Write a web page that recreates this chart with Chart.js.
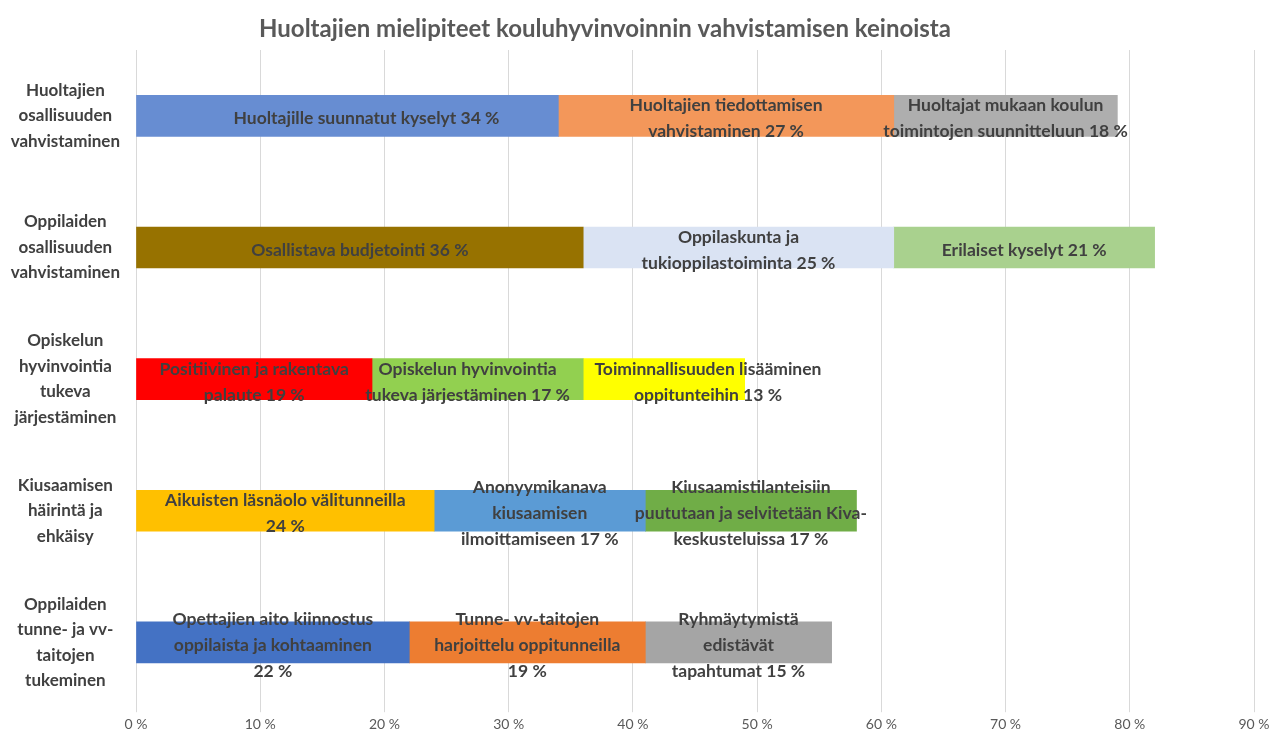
<!DOCTYPE html>
<html>
<head>
<meta charset="utf-8">
<script src="https://cdn.jsdelivr.net/npm/chart.js@4"></script>
<style>
  html, body { margin: 0; padding: 0; background: #fff; }
  #wrap { width: 1287px; height: 739px; }
</style>
</head>
<body>
<div id="wrap"><canvas id="c"></canvas></div>
<script>
// ═══ DATA ═══
const chartTitle = "Huoltajien mielipiteet kouluhyvinvoinnin vahvistamisen keinoista";

const categories = [
  ["Huoltajien", "osallisuuden", "vahvistaminen"],
  ["Oppilaiden", "osallisuuden", "vahvistaminen"],
  ["Opiskelun", "hyvinvointia", "tukeva", "järjestäminen"],
  ["Kiusaamisen", "häirintä ja", "ehkäisy"],
  ["Oppilaiden", "tunne- ja vv-", "taitojen", "tukeminen"]
];

const firstValues  = [34, 36, 19, 24, 22];
const secondValues = [27, 25, 17, 17, 19];
const thirdValues  = [18, 21, 13, 17, 15];

const firstColors  = ["#678DD2", "#977200", "#FF0000", "#FFC000", "#4472C4"];
const secondColors = ["#F3975A", "#DAE3F3", "#92D050", "#5B9BD5", "#ED7D31"];
const thirdColors  = ["#AEAEAE", "#A9D18E", "#FFFF00", "#70AD47", "#A5A5A5"];

const firstLabels = [
  ["Huoltajille suunnatut kyselyt 34 %"],
  ["Osallistava budjetointi 36 %"],
  ["Positiivinen ja rakentava", "palaute 19 %"],
  ["Aikuisten läsnäolo välitunneilla", "24 %"],
  ["Opettajien aito kiinnostus", "oppilaista ja kohtaaminen", "22 %"]
];
const secondLabels = [
  ["Huoltajien tiedottamisen", "vahvistaminen 27 %"],
  ["Oppilaskunta ja", "tukioppilastoiminta 25 %"],
  ["Opiskelun hyvinvointia", "tukeva järjestäminen 17 %"],
  ["Anonyymikanava", "kiusaamisen", "ilmoittamiseen 17 %"],
  ["Tunne- vv-taitojen", "harjoittelu oppitunneilla", "19 %"]
];
const thirdLabels = [
  ["Huoltajat mukaan koulun", "toimintojen suunnitteluun 18 %"],
  ["Erilaiset kyselyt 21 %"],
  ["Toiminnallisuuden lisääminen", "oppitunteihin 13 %"],
  ["Kiusaamistilanteisiin", "puututaan ja selvitetään Kiva-", "keskusteluissa 17 %"],
  ["Ryhmäytymistä", "edistävät", "tapahtumat 15 %"]
];

const xTicks = [0, 10, 20, 30, 40, 50, 60, 70, 80, 90];

const FONT = "Lato, 'Open Sans', sans-serif";
const TEXT = "#404040";

// ═══ SEGMENT LABELS + TITLE ═══
// a few labels were dragged sideways in the original (dataset-category → px)
const labelNudge = { "0-0": 19, "1-2": -10, "2-2": 44 };

const segmentLabelPlugin = {
  id: "segmentLabels",
  afterDatasetsDraw(chart) {
    const ctx = chart.ctx;
    const sets = [firstLabels, secondLabels, thirdLabels];
    ctx.save();
    ctx.font = "bold 17.5px " + FONT;
    ctx.fillStyle = TEXT;
    ctx.textAlign = "center";
    ctx.textBaseline = "middle";
    const lh = 26;
    sets.forEach((lbls, di) => {
      const meta = chart.getDatasetMeta(di);
      meta.data.forEach((bar, i) => {
        const lines = lbls[i];
        const cx = (bar.x + bar.base) / 2 + (labelNudge[di + "-" + i] || 0);
        const cy = bar.y + 3 - (lines.length - 1) * lh / 2;
        lines.forEach((ln, k) => ctx.fillText(ln, cx, cy + k * lh));
      });
    });

    // Title, slightly left of centre like the original
    ctx.font = "bold 24px " + FONT;
    ctx.fillStyle = "#595959";
    ctx.fillText(chartTitle, 605, 29);
    ctx.restore();
  }
};

const canvas = document.getElementById("c");
new Chart(canvas, {
  type: "bar",
  data: {
    labels: categories,
    datasets: [
      { data: firstValues,  backgroundColor: firstColors },
      { data: secondValues, backgroundColor: secondColors },
      { data: thirdValues,  backgroundColor: thirdColors }
    ]
  },
  options: {
    indexAxis: "y",
    responsive: true,
    maintainAspectRatio: false,
    animation: false,
    datasets: { bar: { barThickness: 41, borderWidth: 0 } },
    layout: { padding: { left: 0, right: 33, top: 50, bottom: 2 } },
    plugins: {
      legend: { display: false },
      tooltip: { enabled: false },
      title: { display: false }
    },
    scales: {
      x: {
        stacked: true,
        min: 0, max: 90,
        afterBuildTicks: s => { s.ticks = xTicks.map(v => ({ value: v })); },
        grid: { color: "#D9D9D9", drawTicks: true, tickLength: 4 },
        border: { display: false },
        ticks: {
          callback: v => v + " %",
          font: { size: 14, family: FONT },
          color: "#595959",
          padding: 4
        }
      },
      y: {
        stacked: true,
        grid: { display: false },
        border: { display: false },
        afterFit: s => { s.width = 136; s.paddingTop = 0; s.paddingBottom = 0; },
        ticks: {
          crossAlign: "center",
          padding: 8,
          font: { size: 17, weight: "bold", family: FONT, lineHeight: 1.5 },
          color: TEXT
        }
      }
    }
  },
  plugins: [segmentLabelPlugin]
});
</script>
</body>
</html>
